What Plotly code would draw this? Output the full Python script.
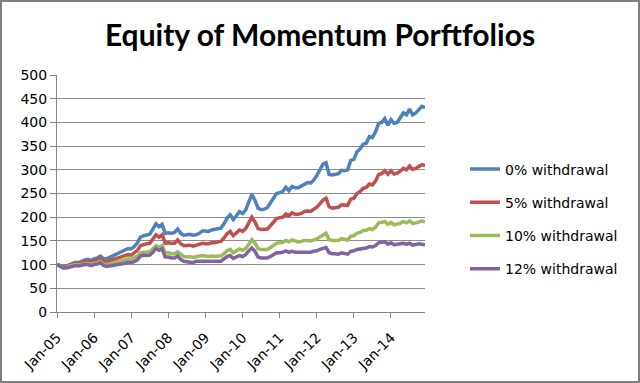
import plotly.graph_objects as go

months = ["Jan", "Feb", "Mar", "Apr", "May", "Jun", "Jul", "Aug", "Sep", "Oct", "Nov", "Dec"]
years = ["05", "06", "07", "08", "09", "10", "11", "12", "13", "14"]
dates = [f"{m}-{y}" for y in years for m in months]
tick_labels = [f"Jan-{y}" for y in years]

w0 = [100, 98, 96, 97, 100, 103, 105, 104, 108, 110, 111, 109,
      112, 114, 118, 113, 112, 115, 118, 121, 124, 127, 130, 134,
      133, 138, 146, 158, 161, 162, 164, 175, 186, 180, 185, 166,
      167, 166, 168, 175, 166, 162, 163, 164, 162, 163, 166, 171,
      171, 170, 173, 174, 176, 177, 186, 198, 205, 195, 203, 212,
      208, 215, 232, 248, 236, 219, 216, 217, 220, 230, 240, 250,
      252, 254, 263, 256, 265, 262, 262, 265, 270, 273, 272, 278,
      288, 300, 312, 315, 290, 289, 291, 292, 299, 298, 300, 320,
      322, 338, 344, 354, 356, 370, 368, 380, 398, 400, 408, 394,
      406, 398, 400, 410, 420, 416, 428, 416, 420, 427, 434, 431]

w5 = [100, 98, 95, 96, 99, 101, 103, 102, 105, 106, 107, 106,
      108, 109, 113, 107, 106, 108, 110, 112, 114, 116, 118, 121,
      120, 124, 130, 140, 143, 144, 145, 155, 163, 158, 163, 145,
      146, 145, 145, 152, 144, 140, 140, 141, 139, 141, 143, 145,
      144, 144, 146, 146, 148, 149, 156, 165, 170, 161, 167, 173,
      170, 176, 188, 200, 190, 176, 174, 174, 175, 182, 190, 197,
      199, 200, 207, 203, 209, 206, 206, 208, 212, 213, 212, 216,
      221, 228, 236, 240, 222, 219, 220, 221, 226, 225, 225, 238,
      240, 250, 254, 261, 263, 270, 268, 276, 290, 292, 298, 291,
      298, 291, 293, 297, 303, 300, 308, 301, 303, 307, 311, 309]

w10 = [100, 98, 94, 94, 97, 98, 100, 99, 101, 102, 103, 101,
       103, 104, 107, 101, 100, 102, 103, 105, 107, 108, 110, 112,
       111, 114, 118, 125, 126, 126, 127, 133, 140, 136, 140, 125,
       125, 123, 123, 127, 121, 117, 116, 117, 115, 117, 118, 119,
       118, 117, 118, 117, 118, 118, 123, 129, 132, 125, 129, 133,
       130, 134, 143, 153, 146, 134, 132, 132, 132, 136, 141, 145,
       146, 147, 151, 148, 152, 149, 148, 149, 151, 151, 150, 152,
       154, 158, 162, 166, 153, 151, 151, 151, 155, 153, 152, 160,
       161, 166, 168, 172, 172, 176, 174, 179, 188, 189, 191, 185,
       189, 184, 185, 187, 191, 188, 192, 187, 188, 190, 192, 190]

w12 = [100, 97, 93, 93, 95, 96, 98, 97, 99, 100, 100, 98,
       100, 101, 104, 98, 96, 97, 98, 99, 100, 102, 103, 105,
       104, 106, 110, 118, 120, 119, 120, 126, 134, 130, 133, 116,
       116, 114, 114, 118, 111, 107, 106, 106, 104, 107, 107, 107,
       106, 106, 107, 106, 107, 107, 112, 117, 119, 113, 116, 119,
       117, 121, 129, 135, 128, 116, 114, 114, 114, 117, 121, 125,
       125, 126, 129, 126, 128, 126, 126, 126, 127, 127, 126, 128,
       129, 132, 134, 136, 125, 123, 123, 122, 125, 123, 122, 128,
       129, 132, 133, 135, 135, 138, 137, 140, 146, 147, 148, 143,
       146, 142, 143, 143, 145, 143, 145, 141, 142, 144, 143, 142]

series_names = ["0% withdrawal", "5% withdrawal", "10% withdrawal", "12% withdrawal"]
series_values = [w0, w5, w10, w12]
colors = ["#4F81BD", "#C0504D", "#9BBB59", "#8064A2"]

fig = go.Figure()
for name, vals, col in zip(series_names, series_values, colors):
    fig.add_trace(go.Scatter(x=dates, y=vals, mode="lines", name=name,
                             legendgroup=name,
                             line=dict(color=col, width=3.5)))

L, R, T, B = 57, 215, 75, 71
W, H = 640, 383
pw, ph = W - L - R, H - T - B

fig.update_layout(
    width=W, height=H,
    margin=dict(l=L, r=R, t=T, b=B, autoexpand=False),
    paper_bgcolor="white", plot_bgcolor="white",
    font=dict(family="DejaVu Sans", size=13, color="black"),
    title=dict(text="Equity of Momentum Porftfolios", x=0.5, xref="container",
               xanchor="center", y=1 - 35 / H, yref="container", yanchor="middle",
               automargin=False,
               font=dict(family="Lato", size=30, color="black", weight="bold")),
    showlegend=True,
    legend=dict(x=(465 - L) / pw, y=(H - B - 219) / ph, xanchor="left", yanchor="middle",
                font=dict(family="DejaVu Sans", size=14, color="black"),
                tracegroupgap=12, bgcolor="rgba(0,0,0,0)"),
    xaxis=dict(type="category", range=[0, len(dates) - 1], automargin=False,
               tickmode="array", tickvals=tick_labels, ticktext=tick_labels,
               tickangle=-45, ticks="outside", ticklen=5, tickcolor="#868686",
               ticklabelstandoff=6,
               showgrid=False, showline=True, linecolor="#868686", linewidth=1,
               tickfont=dict(family="DejaVu Sans", size=14)),
    yaxis=dict(range=[0, 500], dtick=50, tick0=0, showgrid=True, gridcolor="#8C8C8C",
               gridwidth=1, zeroline=False, showline=True, linecolor="#868686",
               ticks="outside", ticklen=6, tickcolor="#868686", automargin=False,
               tickfont=dict(family="DejaVu Sans", size=14)),
    shapes=[dict(type="rect", xref="paper", yref="paper",
                 x0=(1 - L) / pw, x1=(W - 1 - L) / pw,
                 y0=-(B - 1) / ph, y1=(H - 1 - B) / ph,
                 line=dict(color="#7F7F7F", width=2), fillcolor="rgba(0,0,0,0)")],
)

fig.write_html("out.html", config={"displayModeBar": False},
               post_script="document.body.style.margin='0';document.body.style.overflow='hidden';")
